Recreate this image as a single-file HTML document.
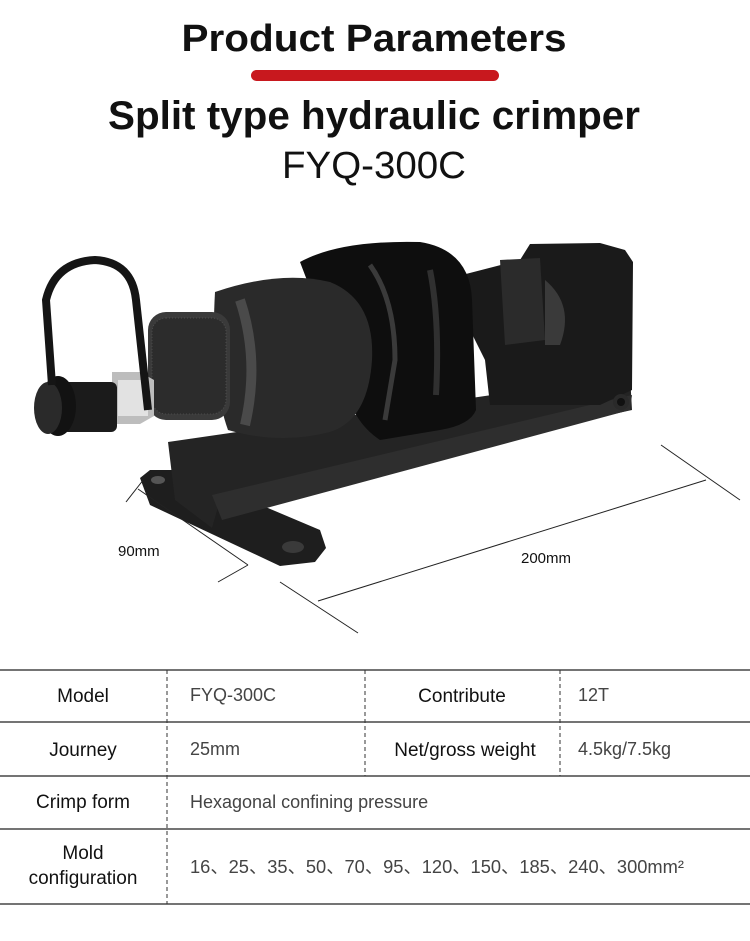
<!DOCTYPE html>
<html><head><meta charset="utf-8"><style>
html,body{margin:0;padding:0;background:#fff;}
svg{display:block;}
text{font-family:"Liberation Sans",sans-serif;fill:#111;}
</style></head><body>
<svg width="750" height="941" viewBox="0 0 750 941" xmlns="http://www.w3.org/2000/svg">
<rect width="750" height="941" fill="#fff"/>
<text x="374" y="51" text-anchor="middle" font-size="38" font-weight="bold" textLength="385" lengthAdjust="spacingAndGlyphs">Product Parameters</text>
<rect x="251" y="70" width="248" height="11" rx="5.5" fill="#c8181e"/>
<text x="374" y="129" text-anchor="middle" font-size="40" font-weight="bold" textLength="532" lengthAdjust="spacingAndGlyphs">Split type hydraulic crimper</text>
<text x="374" y="178" text-anchor="middle" font-size="38" textLength="184" lengthAdjust="spacingAndGlyphs">FYQ-300C</text>

<!-- product (simplified) -->
<g>
<!-- base plate -->
<path d="M140 478 L150 470 L178 470 L320 530 L326 548 L315 562 L280 566 L150 505 Z" fill="#1e1e1e"/>
<ellipse cx="158" cy="480" rx="7" ry="4" fill="#555"/>
<ellipse cx="293" cy="547" rx="11" ry="6" fill="#3a3a3a"/>
<!-- channel -->
<path d="M168 442 L630 375 L632 410 L220 500 L212 528 L175 500 Z" fill="#242424"/>
<path d="M212 495 L632 395 L630 410 L222 520 Z" fill="#2e2e2e"/>
<!-- frame head -->
<path d="M462 275 L520 260 L530 244 L600 243 L625 250 L633 262 L632 390 L600 405 L490 405 L485 360 L470 330 Z" fill="#1a1a1a"/>
<path d="M500 260 L540 258 L545 340 L505 345 Z" fill="#2b2b2b"/>
<path d="M545 280 Q575 305 560 345 L545 345 Z" fill="#3a3a3a"/>
<circle cx="621" cy="402" r="8" fill="#2a2a2a"/><circle cx="621" cy="402" r="4" fill="#111"/>
<!-- big cylinder -->
<path d="M300 262 Q340 240 420 242 Q470 250 472 300 L476 410 Q470 425 440 430 L380 440 Q350 420 345 380 Z" fill="#0e0e0e"/>
<path d="M370 265 Q395 300 395 360 L385 420" stroke="#3a3a3a" stroke-width="5" fill="none"/>
<path d="M430 270 Q440 320 436 395" stroke="#303030" stroke-width="6" fill="none"/>
<!-- mid cylinder -->
<path d="M215 292 Q280 270 330 282 Q375 300 372 360 Q368 420 330 432 Q280 445 228 430 Q210 380 215 292 Z" fill="#2a2a2a"/>
<path d="M240 300 Q260 360 245 425" stroke="#4a4a4a" stroke-width="10" fill="none"/>
<!-- knurled -->
<rect x="148" y="312" width="82" height="108" rx="18" fill="#3a3a3a"/>
<rect x="152" y="318" width="74" height="96" rx="14" fill="#2c2c2c" stroke="#4d4d4d" stroke-dasharray="1 2"/>
<!-- nut -->
<path d="M112 372 L140 372 L154 380 L154 416 L140 424 L112 424 Z" fill="#bdbdbd"/>
<rect x="118" y="380" width="30" height="36" fill="#e2e2e2"/>
<!-- coupler -->
<rect x="62" y="382" width="55" height="50" rx="6" fill="#1b1b1b"/>
<ellipse cx="58" cy="406" rx="18" ry="30" fill="#121212"/>
<ellipse cx="48" cy="408" rx="14" ry="26" fill="#2a2a2a"/>
<!-- strap -->
<path d="M52 385 L46 300 Q55 262 95 260 Q132 262 136 300 L148 410" stroke="#151515" stroke-width="8" fill="none"/>
</g>

<!-- dimension lines -->
<g stroke="#222" stroke-width="1" fill="none">
<line x1="138" y1="489" x2="248" y2="565"/>
<line x1="126" y1="502" x2="144" y2="479"/>
<line x1="218" y1="582" x2="248" y2="565"/>
<line x1="318" y1="601" x2="706" y2="480"/>
<line x1="280" y1="582" x2="358" y2="633"/>
<line x1="661" y1="445" x2="740" y2="500"/>
</g>
<text x="118" y="556" font-size="15">90mm</text>
<text x="521" y="563" font-size="15">200mm</text>

<!-- table -->
<g stroke="#222" stroke-width="1.3">
<line x1="0" y1="670" x2="750" y2="670"/>
<line x1="0" y1="722" x2="750" y2="722"/>
<line x1="0" y1="776" x2="750" y2="776"/>
<line x1="0" y1="829" x2="750" y2="829"/>
<line x1="0" y1="904" x2="750" y2="904"/>
</g>
<g stroke="#333" stroke-width="1" stroke-dasharray="4 3">
<line x1="167" y1="670" x2="167" y2="904"/>
<line x1="365" y1="670" x2="365" y2="776"/>
<line x1="560" y1="670" x2="560" y2="776"/>
</g>
<g font-size="19">
<text x="83" y="702" text-anchor="middle">Model</text>
<text x="462" y="702" text-anchor="middle">Contribute</text>
<text x="83" y="756" text-anchor="middle">Journey</text>
<text x="465" y="756" text-anchor="middle">Net/gross weight</text>
<text x="83" y="808" text-anchor="middle">Crimp form</text>
<text x="83" y="859" text-anchor="middle">Mold</text>
<text x="83" y="884" text-anchor="middle">configuration</text>
</g>
<g font-size="18" style="fill:#444">
<text x="190" y="701" style="fill:#444">FYQ-300C</text>
<text x="578" y="701" style="fill:#444">12T</text>
<text x="190" y="755" style="fill:#444">25mm</text>
<text x="578" y="755" style="fill:#444">4.5kg/7.5kg</text>
<text x="190" y="808" style="fill:#444">Hexagonal confining pressure</text>
<text x="190" y="873" style="fill:#444" textLength="494" lengthAdjust="spacingAndGlyphs">16、25、35、50、70、95、120、150、185、240、300mm²</text>
</g>
</svg>
</body></html>
